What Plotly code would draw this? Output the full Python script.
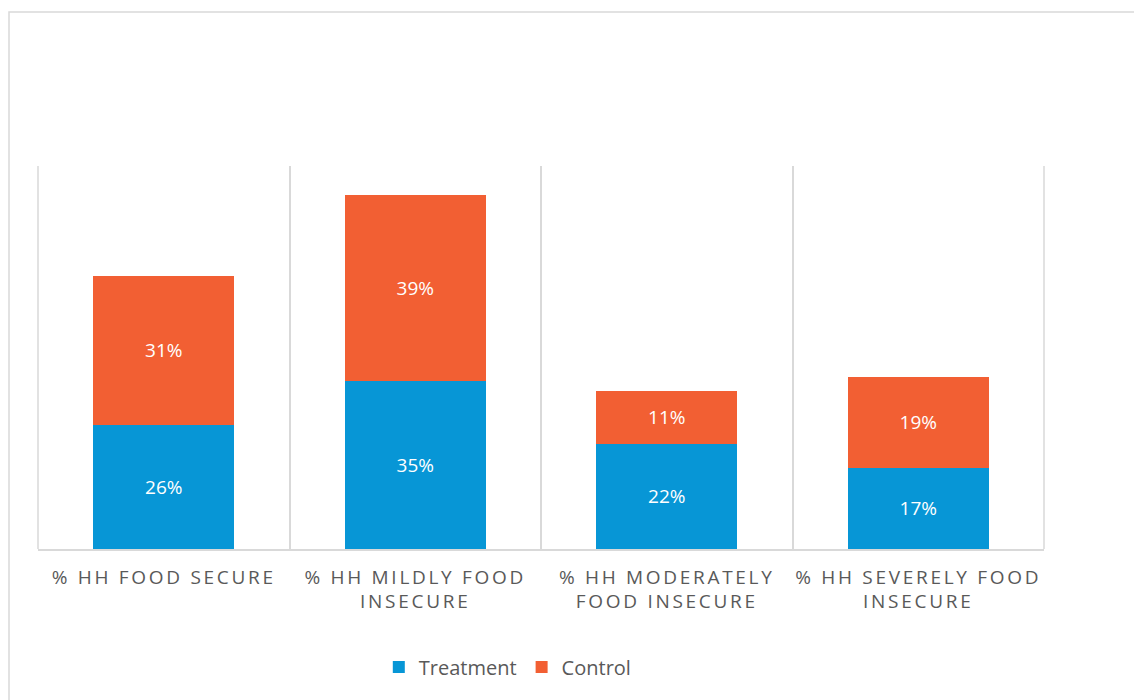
import plotly.graph_objects as go

categories = ["% HH FOOD SECURE", "% HH MILDLY FOOD<br>INSECURE",
              "% HH MODERATELY<br>FOOD INSECURE", "% HH SEVERELY FOOD<br>INSECURE"]
treatment = [26, 35, 22, 17]
control = [31, 39, 11, 19]

BLUE = "#0796D6"
ORANGE = "#F25F33"
GRAY = "#D9D9D9"
TXT = "#595959"
FONT = "Open Sans"

W, H = 1134, 700
L, R, T, B = 38, 90, 166, 151
pw, ph = W - L - R, H - T - B

fig = go.Figure()
fig.add_bar(x=categories, y=treatment, name="Treatment", marker_color=BLUE,
            marker_line_width=0, width=0.56,
            text=[f"{v}%" for v in treatment], textposition="inside",
            insidetextanchor="middle", textfont=dict(color="white", size=19, family=FONT))
fig.add_bar(x=categories, y=control, name="Control", marker_color=ORANGE,
            marker_line_width=0, width=0.56,
            text=[f"{v}%" for v in control], textposition="inside",
            insidetextanchor="middle", textfont=dict(color="white", size=19, family=FONT))

def px_x(x):
    return (x - L) / pw

def px_y(y):
    return (H - B - y) / ph

# outer chart border
fig.add_shape(type="rect", xref="paper", yref="paper",
              x0=px_x(9), x1=px_x(1145), y0=px_y(712), y1=px_y(12),
              line=dict(color=GRAY, width=1.5), fillcolor="rgba(0,0,0,0)", layer="below")
# edge gridlines of plot area
for xe in (0, 1):
    fig.add_shape(type="line", xref="paper", yref="paper", x0=xe, x1=xe, y0=0, y1=1,
                  line=dict(color=GRAY, width=1.5), layer="below")

fig.update_layout(
    width=W, height=H, barmode="stack",
    margin=dict(l=L, r=R, t=T, b=B, autoexpand=False),
    paper_bgcolor="white", plot_bgcolor="white",
    font=dict(family=FONT, color=TXT),
    showlegend=True,
    legend=dict(orientation="h", x=0.467, xanchor="center", y=px_y(667), yanchor="middle",
                font=dict(size=20, color=TXT, family=FONT), traceorder="normal",
                itemsizing="constant"),
    xaxis=dict(type="category", range=[-0.5, 3.5], tickson="boundaries", showgrid=True,
               gridcolor=GRAY, gridwidth=1.5, showline=True, linecolor=GRAY, linewidth=1.5,
               ticks="", tickfont=dict(size=19, color=TXT, family=FONT), ticklabelstandoff=10),
    yaxis=dict(range=[0, 80], showgrid=False, showticklabels=False, zeroline=False,
               showline=False, ticks=""),
)

post = """
function ls(){
  var gd = document.getElementsByClassName('plotly-graph-div')[0];
  gd.querySelectorAll('.xtick text').forEach(function(t){ t.style.letterSpacing='2.7px'; });
}
ls();
var gd0 = document.getElementsByClassName('plotly-graph-div')[0];
gd0.on('plotly_afterplot', ls);
"""
fig.write_html("out.html", post_script=post)
